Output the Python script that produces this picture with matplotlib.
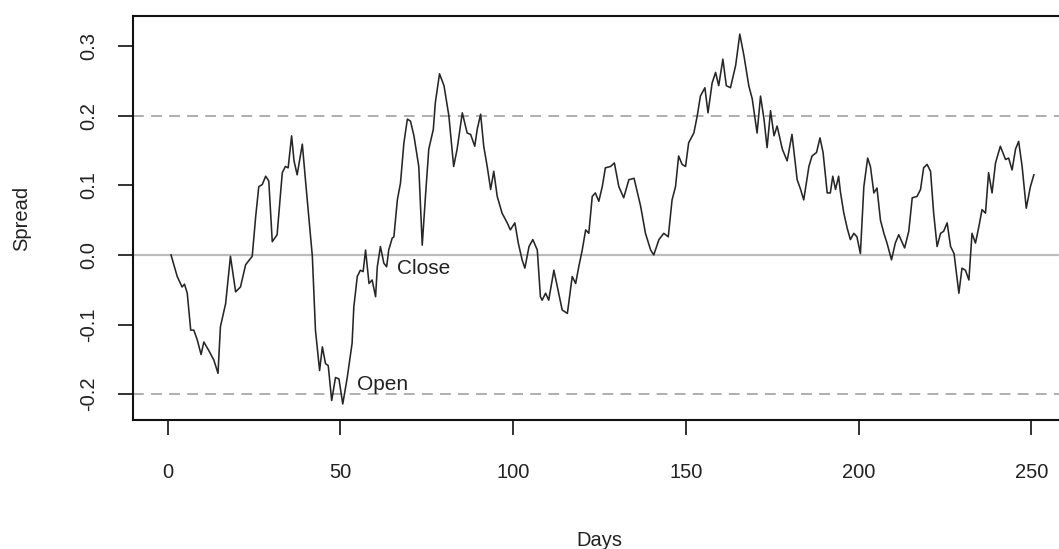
import matplotlib
matplotlib.use("Agg")
import matplotlib.pyplot as plt

# spread series (day, value)
days = [1, 2.8, 4.2, 4.9, 5.7, 6.7, 7.6, 8.6, 9.7, 10.5, 11.9, 13.4, 14.6, 15.3,
        16.8, 18.2, 19.7, 21.1, 22.6, 24.5, 25.5, 26.4, 27.4, 28.4, 29.3, 30.3,
        31.7, 33.2, 34.1, 34.9, 35.9, 36.6, 37.5, 39.0, 39.9, 41.9, 42.8, 44.0,
        44.8, 45.7, 46.5, 47.5, 48.6, 49.6, 50.7, 52.0, 53.4, 53.9, 54.9, 55.8,
        56.6, 57.3, 58.3, 59.2, 60.2, 60.7, 61.6, 62.6, 63.4, 64.0, 65.0, 65.5,
        66.5, 67.4, 68.4, 69.4, 70.3, 71.3, 72.7, 73.7, 74.7, 75.6, 76.9, 77.5,
        78.7, 80.0, 81.4, 82.8, 83.8, 85.3, 86.7, 87.7, 88.9, 89.6, 90.6, 91.5,
        92.5, 93.5, 94.4, 95.4, 96.8, 98.3, 99.2, 100.5, 101.5, 102.6, 103.4,
        104.6, 105.7, 107.0, 107.9, 108.4, 109.4, 110.3, 111.8, 113.2, 114.2,
        115.7, 117.1, 118.1, 119.0, 120.0, 121.0, 121.9, 122.9, 123.8, 124.8,
        125.8, 126.7, 128.2, 129.3, 130.6, 132.0, 133.5, 135.0, 136.9, 138.3,
        139.8, 140.7, 142.2, 143.6, 144.9, 146.0, 147.0, 147.9, 148.9, 149.9,
        150.8, 152.3, 153.3, 154.2, 155.5, 156.4, 157.6, 158.6, 159.5, 160.7,
        161.7, 162.9, 164.4, 165.6, 166.8, 168.2, 169.2, 170.6, 171.6, 172.6,
        173.5, 174.5, 175.5, 176.4, 177.9, 179.3, 180.7, 182.2, 183.2, 184.1,
        185.6, 186.5, 187.8, 188.8, 189.7, 190.9, 191.8, 192.5, 193.3, 194.2,
        194.7, 195.7, 196.7, 197.6, 198.6, 199.5, 200.5, 201.5, 202.6, 203.4,
        204.4, 205.3, 206.3, 207.3, 208.2, 209.5, 210.6, 211.6, 213.3, 214.5,
        215.5, 216.9, 217.9, 218.8, 219.8, 220.8, 221.7, 222.7, 223.7, 224.6,
        225.6, 226.6, 227.6, 229.0, 229.9, 230.9, 231.9, 232.8, 233.8, 234.8,
        235.7, 236.7, 237.6, 238.6, 239.6, 241.0, 242.5, 243.4, 244.4, 245.4,
        246.3, 247.3, 248.5, 249.7, 250.7]
spread = [0.000, -0.031, -0.046, -0.042, -0.055, -0.108, -0.108, -0.122, -0.143,
          -0.125, -0.137, -0.151, -0.170, -0.103, -0.070, -0.002, -0.053, -0.046,
          -0.014, -0.002, 0.055, 0.098, 0.101, 0.113, 0.106, 0.019, 0.029, 0.118,
          0.127, 0.125, 0.171, 0.135, 0.115, 0.159, 0.108, -0.002, -0.108, -0.166,
          -0.132, -0.156, -0.159, -0.209, -0.176, -0.178, -0.214, -0.176, -0.127,
          -0.075, -0.031, -0.022, -0.024, 0.007, -0.041, -0.036, -0.060, -0.017,
          0.012, -0.012, -0.017, 0.007, 0.024, 0.026, 0.079, 0.103, 0.161, 0.195,
          0.192, 0.171, 0.127, 0.014, 0.089, 0.152, 0.180, 0.219, 0.260, 0.243,
          0.200, 0.127, 0.152, 0.204, 0.175, 0.173, 0.156, 0.180, 0.202, 0.156,
          0.127, 0.094, 0.120, 0.084, 0.060, 0.046, 0.036, 0.046, 0.017, -0.007,
          -0.019, 0.012, 0.022, 0.007, -0.060, -0.065, -0.055, -0.065, -0.022,
          -0.055, -0.079, -0.084, -0.031, -0.041, -0.017, 0.007, 0.036, 0.031,
          0.084, 0.089, 0.077, 0.098, 0.125, 0.127, 0.132, 0.098, 0.082, 0.108,
          0.110, 0.070, 0.031, 0.007, 0.000, 0.022, 0.031, 0.026, 0.079, 0.098,
          0.142, 0.130, 0.127, 0.161, 0.175, 0.200, 0.228, 0.240, 0.204, 0.247,
          0.262, 0.243, 0.281, 0.243, 0.240, 0.272, 0.317, 0.286, 0.243, 0.224,
          0.175, 0.228, 0.195, 0.154, 0.207, 0.171, 0.185, 0.152, 0.135, 0.173,
          0.108, 0.094, 0.079, 0.127, 0.142, 0.147, 0.168, 0.147, 0.089, 0.089,
          0.113, 0.094, 0.113, 0.091, 0.060, 0.038, 0.022, 0.031, 0.026, 0.002,
          0.098, 0.139, 0.127, 0.089, 0.096, 0.050, 0.031, 0.017, -0.007, 0.017,
          0.029, 0.010, 0.034, 0.082, 0.084, 0.094, 0.125, 0.130, 0.120, 0.060,
          0.012, 0.031, 0.034, 0.046, 0.012, 0.002, -0.055, -0.019, -0.022,
          -0.036, 0.031, 0.017, 0.041, 0.065, 0.060, 0.118, 0.089, 0.132, 0.156,
          0.137, 0.139, 0.122, 0.152, 0.163, 0.127, 0.067, 0.098, 0.115]

open_level = 0.2
close_level = 0.0
xticks = [0, 50, 100, 150, 200, 250]
yticks = [-0.2, -0.1, 0.0, 0.1, 0.2, 0.3]
ytick_labels = ["-0.2", "-0.1", "0.0", "0.1", "0.2", "0.3"]

plt.rcParams["font.family"] = ["Liberation Sans", "DejaVu Sans"]

W, H = 1059, 549
fig = plt.figure(figsize=(W / 100, H / 100), dpi=100)
ax = fig.add_axes([133 / W, 1 - 420 / H, (1066 - 133) / W, (420 - 16) / H])

ax.axhline(close_level, color="#bdbdbd", lw=1.6, zorder=1)
ax.axhline(open_level, color="#a8a8a8", lw=1.3, ls=(0, (6, 4)), zorder=1)
ax.axhline(-open_level, color="#a8a8a8", lw=1.3, ls=(0, (6, 4)), zorder=1)
ax.plot(days, spread, color="#262626", lw=1.15, zorder=2)

ax.text(66.5, -0.019, "Close", fontsize=15, color="#222222", va="center", ha="left")
ax.text(54.8, -0.186, "Open", fontsize=15, color="#222222", va="center", ha="left")

ax.set_xlim(-10, 260)
ax.set_ylim(-0.237, 0.343)
ax.set_xticks(xticks)
ax.set_yticks(yticks)
ax.set_yticklabels(ytick_labels)
for lab in ax.get_yticklabels():
    lab.set_rotation(90)
    lab.set_va("center")

ax.tick_params(direction="out", length=11, width=1.3, labelsize=14.5,
               colors="#222222")
ax.tick_params(axis="x", pad=20)
ax.tick_params(axis="y", pad=14)
for s in ax.spines.values():
    s.set_linewidth(1.5)
    s.set_color("#111111")

fig.text(599 / W, 1 - 540 / H, "Days", fontsize=14.5, ha="center", va="center",
         color="#222222")
fig.text(22 / W, 1 - 218 / H, "Spread", fontsize=14.5, ha="center", va="center",
         rotation=90, color="#222222")

fig.savefig("out.png", dpi=100)
